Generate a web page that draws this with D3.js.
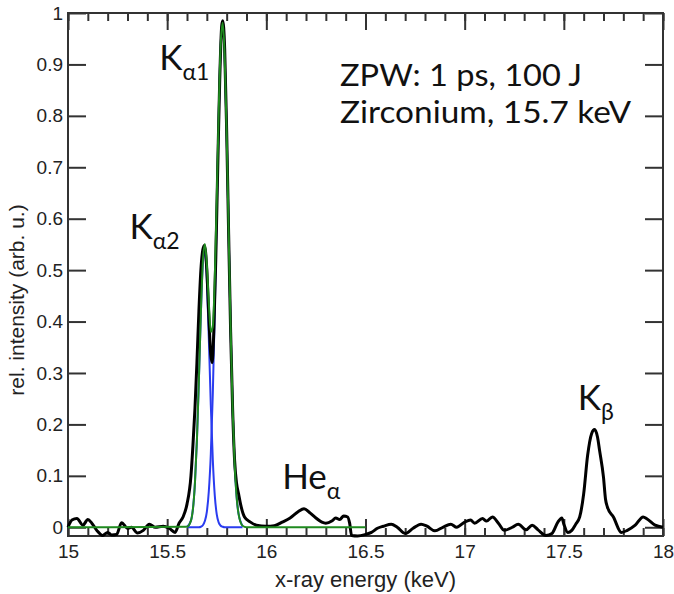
<!DOCTYPE html>
<html>
<head>
<meta charset="utf-8">
<script src="https://cdn.jsdelivr.net/npm/d3@7"></script>
<style>
  body { margin: 0; background: #fff; }
  .axis text { font-family: "Liberation Sans", Arial, sans-serif; font-size: 19px; fill: #222; }
  .axis line { stroke: #333; stroke-width: 2; }
  .axis path { display: none; }
  .note { font-family: Lato, "Open Sans", sans-serif; fill: #111; }
</style>
</head>
<body>
<div id="chart"></div>
<script>
// measured spectrum (black)
var measKeV = [15.00, 15.02, 15.045, 15.075, 15.10, 15.12, 15.145, 15.175, 15.20, 15.22, 15.245, 15.27, 15.30, 15.32, 15.35, 15.38, 15.41, 15.44, 15.48, 15.51, 15.54, 15.56, 15.58,
  15.60, 15.62, 15.63, 15.64, 15.65, 15.66, 15.67, 15.68, 15.688, 15.70, 15.71, 15.72, 15.727, 15.735, 15.745, 15.755, 15.765, 15.775, 15.78, 15.79, 15.80, 15.81, 15.82, 15.83, 15.84, 15.85, 15.86, 15.87, 15.89, 15.92, 15.95,
  16.00, 16.04, 16.08, 16.12, 16.16, 16.19, 16.22, 16.25, 16.28, 16.30, 16.33, 16.35, 16.37, 16.39, 16.41, 16.42, 16.43, 16.46, 16.50, 16.53, 16.56, 16.59, 16.63, 16.66, 16.70, 16.74, 16.78, 16.81, 16.85, 16.89, 16.93, 16.96,
  17.00, 17.03, 17.05, 17.09, 17.11, 17.14, 17.17, 17.20, 17.24, 17.27, 17.31, 17.34, 17.37, 17.41, 17.44, 17.47, 17.49, 17.50, 17.52, 17.54, 17.56, 17.58,
  17.60, 17.62, 17.64, 17.655, 17.67, 17.68, 17.70, 17.71, 17.72, 17.75, 17.79, 17.82, 17.86, 17.90, 17.92, 17.96, 18.00];
var measInt = [0.0, 0.014, 0.017, 0.004, 0.015, 0.008, -0.006, -0.016, -0.01, -0.015, -0.014, 0.009, -0.002, 0.0, -0.011, -0.006, 0.006, 0.0, 0.002, -0.002, -0.01, 0.008, 0.02,
  0.045, 0.10, 0.16, 0.23, 0.32, 0.42, 0.50, 0.54, 0.548, 0.50, 0.41, 0.335, 0.32, 0.38, 0.52, 0.70, 0.87, 0.975, 0.985, 0.93, 0.77, 0.57, 0.38, 0.23, 0.13, 0.085, 0.065, 0.045, 0.02, 0.01, 0.004,
  0.002, 0.003, 0.01, 0.018, 0.03, 0.036, 0.028, 0.018, 0.01, 0.008, 0.012, 0.018, 0.015, 0.022, 0.02, 0.008, -0.016, -0.017, -0.014, -0.01, -0.002, 0.002, 0.006, 0.0, -0.012, -0.002, 0.006, 0.002, -0.007, 0.0, 0.006, 0.0,
  0.01, 0.014, 0.008, 0.017, 0.012, 0.02, 0.008, -0.006, 0.0, 0.006, -0.005, 0.004, -0.005, -0.016, -0.012, 0.01, 0.018, 0.006, -0.01, -0.006, 0.006, 0.02,
  0.065, 0.14, 0.182, 0.19, 0.175, 0.15, 0.097, 0.055, 0.039, 0.02, -0.01, -0.006, 0.004, 0.02, 0.016, 0.004, 0.0];

// total fit (green)
var fitKeV = [15.00, 15.60, 15.62, 15.64, 15.65, 15.66, 15.67, 15.68, 15.69, 15.70, 15.71, 15.72, 15.73, 15.74, 15.75, 15.76, 15.77, 15.78, 15.79, 15.80, 15.81, 15.82, 15.83, 15.84, 15.85, 15.86, 15.88, 15.90, 16.50];
var fitInt = [0.0, 0.001, 0.013, 0.086, 0.17, 0.288, 0.417, 0.517, 0.551, 0.511, 0.437, 0.380, 0.390, 0.482, 0.639, 0.809, 0.94, 0.981, 0.916, 0.767, 0.574, 0.385, 0.231, 0.124, 0.060, 0.026, 0.003, 0.0, 0.0];

// single components (blue)
var compKeV = [15.60, 15.62, 15.64, 15.65, 15.66, 15.67, 15.68, 15.69, 15.70, 15.71, 15.72, 15.73, 15.74, 15.75, 15.76, 15.77, 15.78, 15.79, 15.80, 15.81, 15.82, 15.83, 15.84, 15.85, 15.86, 15.88];
var ka2Int = [0.001, 0.013, 0.086, 0.17, 0.288, 0.417, 0.513, 0.539, 0.481, 0.367, 0.238, 0.132, 0.062, 0.025, 0.009, 0.003, 0.001, 0.0, 0.0, 0.0, 0.0, 0.0, 0.0, 0.0, 0.0, 0.0];
var ka1Int = [0.0, 0.0, 0.0, 0.0, 0.0, 0.001, 0.004, 0.012, 0.030, 0.070, 0.142, 0.258, 0.42, 0.614, 0.80, 0.937, 0.98, 0.916, 0.767, 0.574, 0.385, 0.231, 0.124, 0.060, 0.026, 0.003];

var xMajor = [15, 15.5, 16, 16.5, 17, 17.5, 18];
var yMajor = [0, 0.1, 0.2, 0.3, 0.4, 0.5, 0.6, 0.7, 0.8, 0.9, 1];

// peak labels: [main, subscript, keV, intensity]
var peakLabels = [["K", "α1", 15.46, 0.89], ["K", "α2", 15.31, 0.56], ["He", "α", 16.08, 0.075], ["K", "β", 17.57, 0.228]];
var infoLines = ["ZPW: 1 ps, 100 J", "Zirconium, 15.7 keV"];
var infoWidths = [242, 291];

var w = 674, h = 594;
var margin = {left: 68, right: 11, top: 13, bottom: 58};

var svg = d3.select("#chart").append("svg")
	.attr("width", w)
	.attr("height", h);

var x = d3.scaleLinear().domain([15, 18]).range([margin.left, w - margin.right]);
var y = d3.scaleLinear().domain([-0.017, 1]).range([h - margin.bottom, margin.top]);

var x0 = margin.left, x1 = w - margin.right, y0 = h - margin.bottom, y1 = margin.top;

// axes (ticks point inward)
var xMinor = d3.range(150, 181).map(function(d){ return d / 10; });

svg.append("g").attr("class", "axis")
	.attr("transform", "translate(0," + y0 + ")")
	.call(d3.axisBottom(x).tickValues(xMinor).tickSize(-8).tickFormat(""));
svg.append("g").attr("class", "axis")
	.attr("transform", "translate(0," + y0 + ")")
	.call(d3.axisBottom(x).tickValues(xMajor).tickSize(-17).tickPadding(9).tickFormat(String));
svg.append("g").attr("class", "axis")
	.attr("transform", "translate(0," + y1 + ")")
	.call(d3.axisTop(x).tickValues(xMinor).tickSize(-8).tickFormat(""));
svg.append("g").attr("class", "axis")
	.attr("transform", "translate(0," + y1 + ")")
	.call(d3.axisTop(x).tickValues(xMajor).tickSize(-17).tickFormat(""));
svg.append("g").attr("class", "axis")
	.attr("transform", "translate(" + x0 + ",0)")
	.call(d3.axisLeft(y).tickValues(yMajor).tickSize(-18).tickPadding(5).tickFormat(String));
svg.append("g").attr("class", "axis")
	.attr("transform", "translate(" + x1 + ",0)")
	.call(d3.axisRight(y).tickValues(yMajor).tickSize(-18).tickFormat(""));

svg.selectAll(".axis .tick text").attr("font-size", 19);

// frame
svg.append("rect")
	.attr("x", x0).attr("y", y1)
	.attr("width", x1 - x0).attr("height", y0 - y1)
	.attr("fill", "none")
	.attr("stroke", "#333")
	.attr("stroke-width", 2);

// axis titles
svg.append("text")
	.attr("x", (x0 + x1) / 2)
	.attr("y", 587)
	.attr("text-anchor", "middle")
	.style("font-family", "'Liberation Sans', Arial, sans-serif")
	.style("font-size", "22px")
	.style("fill", "#222")
	.text("x-ray energy (keV)");

svg.append("text")
	.attr("transform", "translate(24," + 300 + ") rotate(-90)")
	.attr("text-anchor", "middle")
	.style("font-family", "'Liberation Sans', Arial, sans-serif")
	.style("font-size", "21px")
	.style("fill", "#222")
	.text("rel. intensity (arb. u.)");

// lines
function lineOf(xs, ys) {
	return d3.line()
		.x(function(d, i){ return x(xs[i]); })
		.y(function(d, i){ return y(ys[i]); })
		.curve(d3.curveMonotoneX)(ys);
}

svg.append("path").attr("d", lineOf(compKeV, ka2Int))
	.attr("fill", "none").attr("stroke", "#2a3cf0").attr("stroke-width", 2);
svg.append("path").attr("d", lineOf(compKeV, ka1Int))
	.attr("fill", "none").attr("stroke", "#2a3cf0").attr("stroke-width", 2);
svg.append("path").attr("d", lineOf(measKeV, measInt))
	.attr("fill", "none").attr("stroke", "#000").attr("stroke-width", 3)
	.attr("stroke-linejoin", "round");
svg.append("path").attr("d", lineOf(fitKeV, fitInt))
	.attr("fill", "none").attr("stroke", "#1f8a1f").attr("stroke-width", 2);

// peak labels
var lab = svg.selectAll(".peak")
	.data(peakLabels)
	.enter()
	.append("text")
	.attr("class", "note")
	.attr("x", function(d){ return x(d[2]); })
	.attr("y", function(d){ return y(d[3]); })
	.style("font-size", "35px");
lab.append("tspan").text(function(d){ return d[0]; });
lab.append("tspan")
	.attr("dy", 10)
	.style("font-size", "23px")
	.text(function(d){ return d[1]; });

// run info
svg.selectAll(".info")
	.data(infoLines)
	.enter()
	.append("text")
	.attr("class", "note")
	.attr("x", 340)
	.attr("y", function(d, i){ return 86 + i * 37; })
	.attr("textLength", function(d, i){ return infoWidths[i]; })
	.attr("lengthAdjust", "spacingAndGlyphs")
	.style("font-size", "30px")
	.text(function(d){ return d; });
</script>
</body>
</html>
